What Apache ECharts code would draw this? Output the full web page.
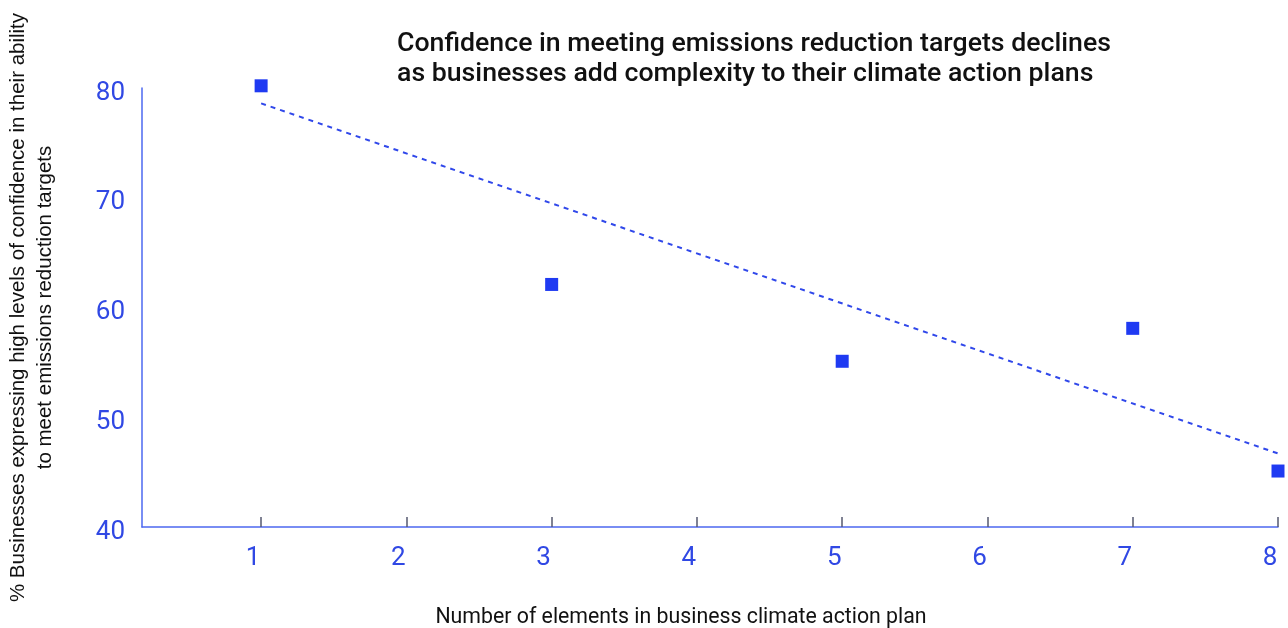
<!DOCTYPE html>
<html>
<head>
<meta charset="utf-8">
<script src="https://cdn.jsdelivr.net/npm/echarts@6/dist/echarts.min.js"></script>
<style>
  html, body { margin: 0; padding: 0; background: #fff; }
  #main { width: 1288px; height: 628px; }
</style>
</head>
<body>
<div id="main"></div>
<script>
// number of elements in the plan
const elements = [1, 3, 5, 7, 8];
// % of businesses with high confidence
const confidence = [80.2, 62.1, 55.1, 58.1, 45.1];
// dashed trend line end points
const trendX = [1, 8];
const trendY = [78.6, 46.7];
const xTicks = [1, 2, 3, 4, 5, 6, 7, 8];

const chart = echarts.init(document.getElementById('main'));

const blue = '#1f3af2';
const axisBlue = '#4d68f0';
const labelBlue = '#3048e4';

const option = {
    animation: false,
    title: {
        text: 'Confidence in meeting emissions reduction targets declines\nas businesses add complexity to their climate action plans',
        left: 397,
        top: 29,
        padding: 0,
        textStyle: {
            fontFamily: 'Roboto',
            fontWeight: 500,
            fontSize: 26.7,
            lineHeight: 30,
            color: '#111'
        }
    },
    grid: {
        left: 142,
        right: 10,
        top: 88,
        bottom: 101,
        outerBoundsMode: 'none'
    },
    xAxis: {
        type: 'value',
        min: 0.18,
        max: 8,
        name: 'Number of elements in business climate action plan',
        nameLocation: 'middle',
        nameGap: 80,
        nameTextStyle: { fontFamily: 'Roboto', fontSize: 21.3, color: '#111', padding: [0, 58, 0, 0] },
        axisLine: { show: true, lineStyle: { color: axisBlue, width: 1.5 } },
        axisTick: {
            show: true,
            inside: true,
            length: 10,
            customValues: xTicks,
            lineStyle: { color: '#555a70', width: 1.5 }
        },
        axisLabel: {
            customValues: xTicks,
            margin: 18,
            padding: [0, 16, 0, 0],
            fontFamily: 'Roboto',
            fontSize: 26,
            color: labelBlue
        },
        splitLine: { show: false }
    },
    yAxis: {
        type: 'value',
        min: 40,
        max: 80,
        interval: 10,
        name: '% Businesses expressing high levels of confidence in their ability\nto meet emissions reduction targets',
        nameLocation: 'middle',
        nameRotate: 90,
        nameGap: 83,
        nameTextStyle: { fontFamily: 'Liberation Sans', fontSize: 20.5, lineHeight: 27, color: '#111' },
        axisLine: { show: true, lineStyle: { color: axisBlue, width: 1.5 } },
        axisTick: { show: false },
        axisLabel: {
            margin: 17,
            verticalAlign: 'top',
            lineHeight: 10,
            fontFamily: 'Roboto',
            fontSize: 26,
            color: labelBlue
        },
        splitLine: { show: false }
    },
    series: [
        {
            type: 'line',
            data: trendX.map((x, i) => [x, trendY[i]]),
            showSymbol: false,
            lineStyle: { color: '#3048ea', width: 2, type: [5, 5] },
            z: 1
        },
        {
            type: 'scatter',
            data: elements.map((x, i) => [x, confidence[i]]),
            symbol: 'rect',
            symbolSize: 13,
            itemStyle: { color: blue, opacity: 1 },
            clip: false,
            z: 2
        }
    ]
};

chart.setOption(option);
</script>
</body>
</html>
